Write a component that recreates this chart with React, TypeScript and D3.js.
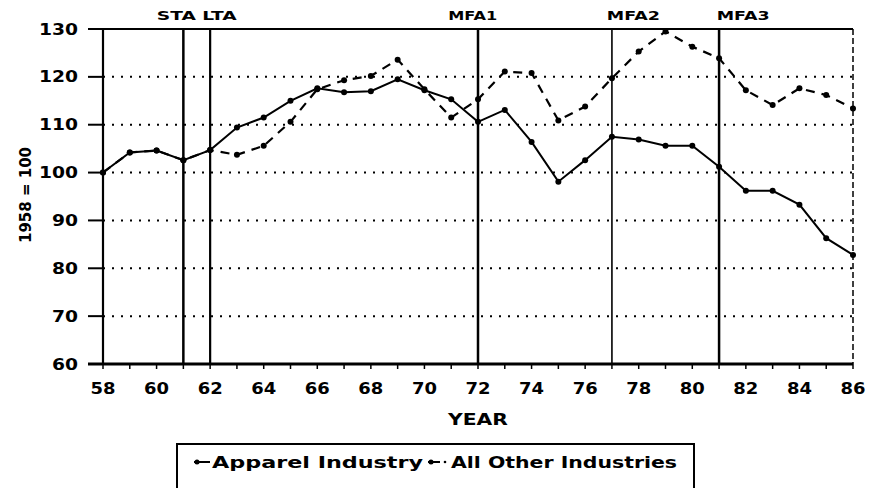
import React from "react";
import * as d3 from "d3";

const years = [58,59,60,61,62,63,64,65,66,67,68,69,70,71,72,73,74,75,76,77,78,79,80,81,82,83,84,85,86];
const apparel = [100,104.2,104.6,102.6,104.7,109.4,111.5,115,117.6,116.8,117,119.5,117.2,115.3,110.6,113.1,106.4,98.1,102.6,107.5,106.9,105.6,105.6,101.2,96.2,96.2,93.3,86.3,82.8];
const otherInd = [100,104.2,104.6,102.6,104.7,103.7,105.6,110.6,117.4,119.3,120.2,123.6,117.4,111.5,115.3,121.1,120.8,110.9,113.8,119.7,125.3,129.5,126.3,123.9,117.2,114.1,117.6,116.2,113.4];
const yTicks = [60,70,80,90,100,110,120,130];
const gridValues = [70,80,90,100,110,120];
const xTickLabels = [58,60,62,64,66,68,70,72,74,76,78,80,82,84,86];
const policyYears = [61,62,72,77,81];
const policyLabels = [
  { text: "STA LTA", year: 61.5, w: 80 },
  { text: "MFA1", year: 71.8, w: 49 },
  { text: "MFA2", year: 77.8, w: 53 },
  { text: "MFA3", year: 81.9, w: 53 },
];
const seriesNames = ["Apparel Industry", "All Other Industries"];

const FONT = "'DejaVu Sans', 'Liberation Sans', Arial, sans-serif";

export default function App() {
  const W = 869, H = 488;
  const x = d3.scaleLinear().domain([58, 86]).range([103, 853]);
  const y = d3.scaleLinear().domain([60, 130]).range([364, 29]);
  const line = d3.line<number>().x((_, i) => x(years[i])).y(d => y(d));
  const policyW: Record<number, number> = { 61: 2.5, 62: 2.2, 72: 2.5, 77: 1.6, 81: 2.5 };

  return (
    <svg width={W} height={H} style={{ position: "absolute", left: 0, top: 0, background: "#fff" }}>
      <rect x={0} y={0} width={W} height={H} fill="#fff" />
      {/* grid */}
      {gridValues.map(v => (
        <line key={"g" + v} x1={x(58)} x2={x(86)} y1={y(v)} y2={y(v)} stroke="#000" strokeWidth={2} strokeDasharray="2,7" />
      ))}
      {/* frame */}
      <line x1={88} x2={x(86)} y1={y(130)} y2={y(130)} stroke="#000" strokeWidth={2} />
      <line x1={x(86)} x2={x(86)} y1={y(130)} y2={y(60)} stroke="#000" strokeWidth={1.5} strokeDasharray="6,3" />
      <line x1={x(58)} x2={x(58)} y1={y(130)} y2={y(60)} stroke="#000" strokeWidth={2.2} />
      <line x1={88} x2={x(86)} y1={y(60)} y2={y(60)} stroke="#000" strokeWidth={2.8} />
      {/* y ticks */}
      {yTicks.map(v => (
        <g key={"yt" + v}>
          <line x1={88} x2={x(58)} y1={y(v)} y2={y(v)} stroke="#000" strokeWidth={2} />
          <text x={78} y={y(v) + 5.5} textAnchor="end" fontFamily={FONT} fontWeight="bold" fontSize={15}
            textLength={v >= 100 ? 39 : 26} lengthAdjust="spacingAndGlyphs">{v}</text>
        </g>
      ))}
      {/* x ticks */}
      {years.map(yr => (
        <line key={"xt" + yr} x1={x(yr)} x2={x(yr)} y1={y(60)} y2={y(60) + 5} stroke="#000" strokeWidth={1.5} />
      ))}
      {xTickLabels.map(yr => (
        <text key={"xl" + yr} x={x(yr)} y={394} textAnchor="middle" fontFamily={FONT} fontWeight="bold" fontSize={15}
          textLength={25} lengthAdjust="spacingAndGlyphs">{yr}</text>
      ))}
      {/* policy lines */}
      {policyYears.map(yr => (
        <line key={"p" + yr} x1={x(yr)} x2={x(yr)} y1={y(130)} y2={y(60)} stroke="#000" strokeWidth={policyW[yr]} />
      ))}
      {policyLabels.map(p => (
        <text key={p.text} x={x(p.year)} y={20} textAnchor="middle" fontFamily={FONT} fontWeight="bold" fontSize={13}
          textLength={p.w} lengthAdjust="spacingAndGlyphs">{p.text}</text>
      ))}
      {/* series */}
      <path d={line(otherInd) || ""} fill="none" stroke="#000" strokeWidth={2.2} strokeDasharray="9,7" />
      <path d={line(apparel) || ""} fill="none" stroke="#000" strokeWidth={2} />
      {otherInd.map((v, i) => (
        <circle key={"o" + i} cx={x(years[i])} cy={y(v)} r={3} fill="#000" />
      ))}
      {apparel.map((v, i) => (
        <circle key={"a" + i} cx={x(years[i])} cy={y(v)} r={3} fill="#000" />
      ))}
      {/* axis titles */}
      <text x={478} y={425} textAnchor="middle" fontFamily={FONT} fontWeight="bold" fontSize={15}
        textLength={60} lengthAdjust="spacingAndGlyphs">YEAR</text>
      <text transform={`translate(31,195) rotate(-90)`} textAnchor="middle" fontFamily={FONT} fontWeight="bold" fontSize={15}
        textLength={96} lengthAdjust="spacingAndGlyphs">1958 = 100</text>
      {/* legend */}
      <rect x={177} y={444} width={517} height={60} fill="none" stroke="#000" strokeWidth={2} />
      <line x1={194} x2={210} y1={462} y2={462} stroke="#000" strokeWidth={2} />
      <circle cx={197} cy={462} r={2.5} fill="#000" />
      <text x={212} y={468} fontFamily={FONT} fontWeight="bold" fontSize={16}
        textLength={211} lengthAdjust="spacingAndGlyphs">{seriesNames[0]}</text>
      <line x1={428} x2={440} y1={462} y2={462} stroke="#000" strokeWidth={2} />
      <circle cx={431} cy={462} r={2.5} fill="#000" />
      <circle cx={445} cy={462} r={1.3} fill="#000" />
      <text x={451} y={468} fontFamily={FONT} fontWeight="bold" fontSize={16}
        textLength={226} lengthAdjust="spacingAndGlyphs">{seriesNames[1]}</text>
    </svg>
  );
}
